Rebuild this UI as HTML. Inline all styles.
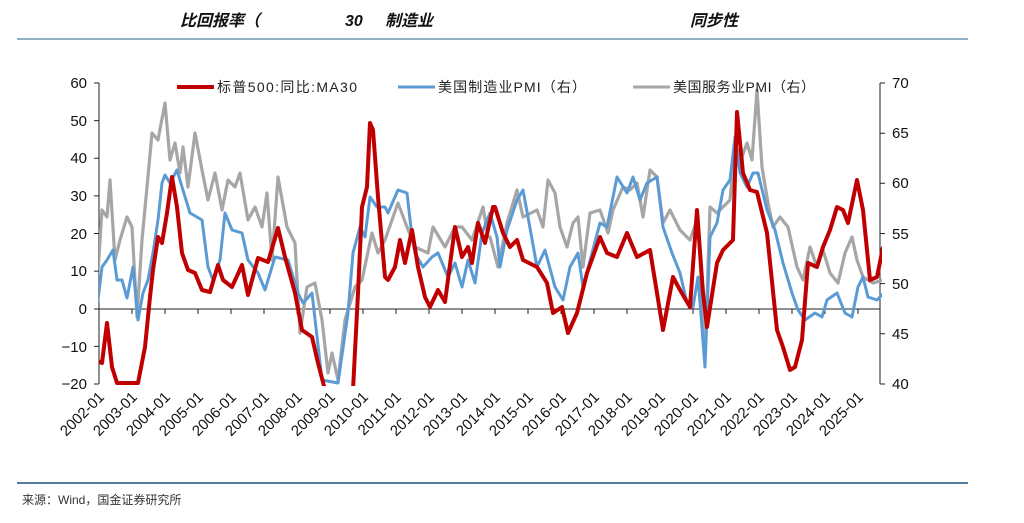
<!DOCTYPE html>
<html><head><meta charset="utf-8"><style>
body{margin:0;background:#fff;width:1024px;height:518px;overflow:hidden;font-family:"Liberation Sans","Noto Sans CJK SC",sans-serif}
</style></head><body>
<svg width="1024" height="518" viewBox="0 0 1024 518" xmlns="http://www.w3.org/2000/svg" font-family="Liberation Sans, Noto Sans CJK SC, sans-serif">
<g font-style="italic" font-weight="bold" font-size="16" fill="#111">
<text x="180" y="26">比回报率（</text><text x="345" y="26">30</text><text x="385" y="26">制造业</text><text x="690" y="26">同步性</text>
</g>
<line x1="17" y1="39" x2="968" y2="39" stroke="#8fb0c5" stroke-width="2"/>
<line x1="17" y1="483" x2="968" y2="483" stroke="#1f4e79" stroke-width="1.5"/>
<text x="22" y="504" font-size="12" fill="#333">来源：Wind，国金证券研究所</text>
<defs><clipPath id="c"><rect x="99" y="81" width="783" height="305"/></clipPath></defs>
<g stroke="#222" stroke-width="1" fill="none">
<line x1="99" y1="83" x2="99" y2="384"/><line x1="880" y1="83" x2="880" y2="384"/>
<line x1="99" y1="309" x2="880" y2="309"/>
<path d="M94 83H99M94 120.6H99M94 158.3H99M94 195.9H99M94 233.5H99M94 271.1H99M94 309H99M94 346.4H99M94 384H99"/>
<path d="M880 83H885M880 133.2H885M880 183.3H885M880 233.5H885M880 283.6H885M880 333.8H885M880 384H885"/>
<path d="M99 309v5M132 309v5M165 309v5M198 309v5M231 309v5M264 309v5M297 309v5M330 309v5M363 309v5M396 309v5M429 309v5M462 309v5M495 309v5M528 309v5M561 309v5M594 309v5M627 309v5M660 309v5M693 309v5M726 309v5M759 309v5M792 309v5M825 309v5M858 309v5"/>
</g>
<g font-size="15" fill="#111" text-anchor="end">
<text x="87" y="88">60</text><text x="87" y="126">50</text><text x="87" y="163">40</text><text x="87" y="201">30</text><text x="87" y="239">20</text><text x="87" y="276">10</text><text x="87" y="314">0</text><text x="87" y="352">−10</text><text x="87" y="389">−20</text>
</g>
<g font-size="15" fill="#111">
<text x="892" y="88">70</text><text x="892" y="138">65</text><text x="892" y="188">60</text><text x="892" y="239">55</text><text x="892" y="289">50</text><text x="892" y="339">45</text><text x="892" y="389">40</text>
</g>
<g font-size="15" fill="#111" text-anchor="end">
<text transform="translate(105,398) rotate(-45)">2002-01</text>
<text transform="translate(138,398) rotate(-45)">2003-01</text>
<text transform="translate(171,398) rotate(-45)">2004-01</text>
<text transform="translate(204,398) rotate(-45)">2005-01</text>
<text transform="translate(237,398) rotate(-45)">2006-01</text>
<text transform="translate(270,398) rotate(-45)">2007-01</text>
<text transform="translate(303,398) rotate(-45)">2008-01</text>
<text transform="translate(336,398) rotate(-45)">2009-01</text>
<text transform="translate(369,398) rotate(-45)">2010-01</text>
<text transform="translate(402,398) rotate(-45)">2011-01</text>
<text transform="translate(435,398) rotate(-45)">2012-01</text>
<text transform="translate(468,398) rotate(-45)">2013-01</text>
<text transform="translate(501,398) rotate(-45)">2014-01</text>
<text transform="translate(534,398) rotate(-45)">2015-01</text>
<text transform="translate(567,398) rotate(-45)">2016-01</text>
<text transform="translate(600,398) rotate(-45)">2017-01</text>
<text transform="translate(633,398) rotate(-45)">2018-01</text>
<text transform="translate(666,398) rotate(-45)">2019-01</text>
<text transform="translate(699,398) rotate(-45)">2020-01</text>
<text transform="translate(732,398) rotate(-45)">2021-01</text>
<text transform="translate(765,398) rotate(-45)">2022-01</text>
<text transform="translate(798,398) rotate(-45)">2023-01</text>
<text transform="translate(831,398) rotate(-45)">2024-01</text>
<text transform="translate(864,398) rotate(-45)">2025-01</text>
</g>
<g clip-path="url(#c)" fill="none" stroke-linejoin="round">
<polyline stroke="#a6a6a6" stroke-width="3.2" points="97,287 102,210 107,217 110,180 115,260 120,240 127,217 132,227 137,317 142,240 147,187 152,133 158,140 165,103 170,160 175,143 180,173 183,147 188,187 195,133 202,170 208,200 215,173 222,210 228,180 235,187 240,173 248,220 255,207 262,227 267,193 272,260 278,177 287,227 295,243 300,333 307,287 315,283 322,320 328,373 332,353 338,380 345,320 355,287 362,280 372,233 378,253 385,240 398,203 407,227 415,247 428,253 433,227 445,247 455,227 462,227 472,240 483,207 488,237 490,237 498,267 507,223 517,190 523,217 537,210 543,227 548,180 555,193 560,227 567,247 573,223 578,217 583,267 590,213 600,210 608,233 613,210 623,187 630,190 637,183 643,217 650,170 657,177 663,223 670,210 680,230 690,240 698,217 705,357 710,207 717,213 730,200 735,147 742,157 747,143 752,160 757,90 762,167 768,203 773,227 780,217 788,227 797,267 803,280 810,247 817,267 823,250 830,273 838,283 845,253 852,237 857,260 863,277 873,283 883,280"/>
<polyline stroke="#5b9bd5" stroke-width="3" points="97,308 102,267 107,260 113,250 117,280 122,280 127,298 133,267 138,320 143,293 148,280 153,253 158,220 162,183 165,175 170,183 177,170 182,187 190,213 202,220 208,267 213,280 220,260 225,213 232,230 242,233 248,260 258,273 265,290 275,257 288,260 298,293 303,303 312,293 322,380 338,383 348,313 353,253 360,227 365,237 370,197 377,207 385,207 388,213 398,190 407,193 412,237 415,253 423,267 432,257 438,253 448,277 455,263 462,287 468,260 475,283 482,233 490,213 497,237 500,267 507,230 517,200 523,190 528,217 537,267 545,250 555,287 563,300 570,267 578,253 583,287 600,223 607,227 617,177 627,193 633,177 640,200 647,183 657,177 663,227 672,253 680,273 687,303 693,307 698,277 705,367 710,237 717,223 723,190 730,180 735,137 740,173 747,187 753,173 758,173 767,210 775,230 783,263 792,293 798,310 805,320 815,313 822,317 827,300 837,293 845,313 852,317 858,287 863,277 868,297 877,300 884,293"/>
<polyline stroke="#c00000" stroke-width="4" points="95,360 102,363 107,323 112,367 117,383 122,383 128,383 138,383 145,347 150,297 153,270 158,237 162,243 167,213 172,177 177,207 182,253 188,270 195,273 202,290 210,292 218,265 223,280 232,287 242,265 248,295 258,258 268,262 278,228 285,257 295,293 302,330 312,337 318,363 325,390 353,390 358,293 362,207 367,187 370,123 373,130 378,197 385,277 388,280 395,267 400,240 405,263 412,230 418,267 425,297 430,307 438,290 445,302 455,227 462,257 468,247 472,263 478,223 485,243 493,207 495,207 503,233 510,247 517,240 523,260 537,267 547,283 553,313 562,307 568,333 577,313 587,273 600,237 607,253 617,257 627,233 637,257 650,250 663,330 673,277 680,290 690,307 697,210 703,293 707,327 717,263 723,250 733,240 737,112 743,173 750,190 757,192 767,233 777,330 783,347 790,370 795,367 802,340 808,263 817,267 823,247 830,230 837,207 843,210 848,223 857,180 863,210 870,280 877,277 883,247"/>
</g>
<g font-size="14" fill="#222">
<line x1="177" y1="87" x2="214" y2="87" stroke="#c00000" stroke-width="4"/><text x="217" y="92" textLength="140">标普500:同比:MA30</text>
<line x1="398" y1="87" x2="435" y2="87" stroke="#5b9bd5" stroke-width="3"/><text x="438" y="92" textLength="148">美国制造业PMI（右）</text>
<line x1="633" y1="87" x2="670" y2="87" stroke="#a6a6a6" stroke-width="3"/><text x="673" y="92" textLength="142">美国服务业PMI（右）</text>
</g>
</svg>
</body></html>
